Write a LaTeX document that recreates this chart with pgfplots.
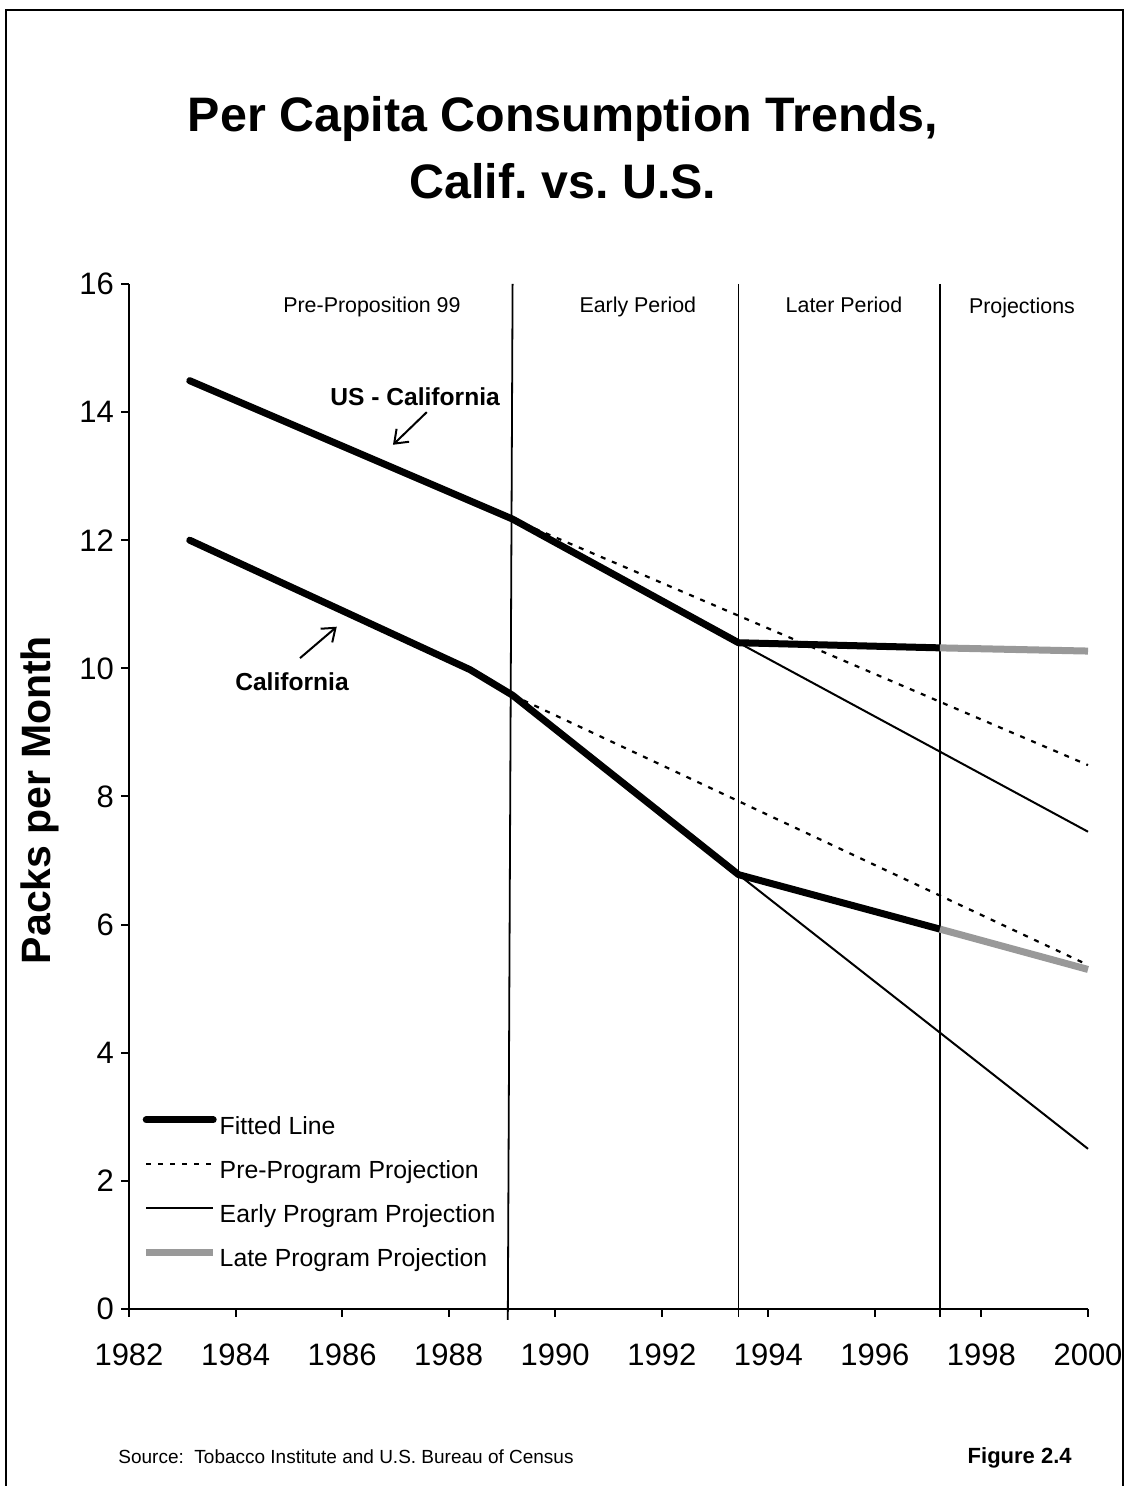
\documentclass[border=0pt]{standalone}
\usepackage{fontspec}
\setmainfont{Liberation Sans}
\usepackage{pgfplots}
\pgfplotsset{compat=1.18}
\usetikzlibrary{arrows.meta}
\definecolor{lategray}{RGB}{153,153,153}
\frenchspacing
\begin{document}
\begin{tikzpicture}[x=0.5pt,y=0.5pt]
\useasboundingbox (0,0) rectangle (1126,1486);
\draw[line width=1.3pt] (6,-20) -- (6,1476) -- (1123,1476) -- (1123,-20);
% title
\node[anchor=base, font=\fontsize{24.2}{29}\bfseries\selectfont] at (563,1486-132) {Per Capita Consumption Trends,};
\node[anchor=base, font=\fontsize{24.2}{29}\bfseries\selectfont] at (563,1486-199) {Calif. vs. U.S.};
% y label
\node[rotate=90, font=\fontsize{20.5}{24}\bfseries\selectfont] at (40,1486-800) {Packs per Month};
% footer
\node[anchor=base west, font=\fontsize{9.5}{11}\selectfont, inner sep=0pt] at (118,1486-1464) {Source:\ \ Tobacco Institute and U.S. Bureau of Census};
\node[anchor=base east, font=\fontsize{11}{13}\bfseries\selectfont, inner sep=0pt] at (1072,1486-1464) {Figure 2.4};
\begin{axis}[
  at={(64.5pt,88.5pt)}, anchor=south west,
  scale only axis, width=479.5pt, height=512.5pt,
  xmin=1982, xmax=2000, ymin=0, ymax=16,
  axis x line*=bottom, axis y line*=left,
  axis line style={line width=1pt},
  xtick={1982,1984,1986,1988,1990,1992,1994,1996,1998,2000},
  xticklabels={1982,1984,1986,1988,1990,1992,1994,1996,1998,2000},
  ytick={0,2,4,6,8,10,12,14,16},
  tick align=outside, major tick length=4pt,
  tick style={black, line width=1pt},
  /pgf/number format/assume math mode=true,
  tick label style={font=\fontsize{15.5}{18}\selectfont},
  xticklabel style={yshift=-10pt},
  clip=false,
  legend style={at={(axis cs:1982.25,3.06)}, anchor=north west, draw=none, fill=none,
    font=\fontsize{12.4}{14}\selectfont, row sep=7.6pt, inner sep=0pt,
    nodes={inner sep=1.5pt, text height=9pt, text depth=2.5pt}},
  legend cell align=left,
  legend image code/.code={\draw[#1] (0pt,4pt) -- (33.5pt,4pt);},
]
% period separators
\addplot[line width=0.9pt, forget plot] coordinates {(1989.2,16) (1989.11,-0.17)};
\addplot[line width=0.9pt, forget plot] coordinates {(1993.44,16) (1993.44,-0.12)};
\addplot[line width=0.9pt, forget plot] coordinates {(1997.22,16) (1997.22,-0.12)};
% fitted
\addplot[line width=3.5pt, line cap=round, line join=round] coordinates {(1983.14,14.49) (1989.2,12.33) (1993.44,10.40) (1997.22,10.32)};
\addlegendentry{Fitted Line}
% pre-program projections
\addplot[line width=1.1pt, dash pattern=on 2.5pt off 3.5pt] coordinates {(1989.2,12.33) (2000,8.49)};
\addlegendentry{Pre-Program Projection}
% early program projections
\addplot[line width=1pt] coordinates {(1993.44,10.40) (2000,7.45)};
\addlegendentry{Early Program Projection}
% late
\addplot[line width=3.5pt, lategray] coordinates {(1997.22,10.32) (2000,10.27)};
\addlegendentry{Late Program Projection}
% California
\addplot[line width=1.1pt, dash pattern=on 2.5pt off 3.5pt, forget plot] coordinates {(1989.2,9.58) (2000,5.37)};
\addplot[line width=1pt, forget plot] coordinates {(1993.44,6.78) (2000,2.50)};
\addplot[line width=3.5pt, line cap=round, line join=round, forget plot] coordinates {(1983.14,12.0) (1988.4,9.98) (1989.2,9.58) (1993.44,6.78) (1997.22,5.93)};
\addplot[line width=3.5pt, lategray, forget plot] coordinates {(1997.22,5.93) (2000,5.30)};
% period labels
\node[anchor=base, font=\fontsize{10.7}{13}\selectfont] at (axis cs:1986.56,15.56) {Pre-Proposition 99};
\node[anchor=base, font=\fontsize{10.7}{13}\selectfont] at (axis cs:1991.55,15.56) {Early Period};
\node[anchor=base, font=\fontsize{10.7}{13}\selectfont] at (axis cs:1995.42,15.56) {Later Period};
\node[anchor=base, font=\fontsize{10.7}{13}\selectfont] at (axis cs:1998.76,15.54) {Projections};
% annotations
\node[font=\fontsize{12.3}{14}\bfseries\selectfont] at (axis cs:1987.37,14.24) {US - California};
\draw[line width=1pt, -{Straight Barb[length=6pt,width=9pt]}] (axis cs:1987.59,14.0) -- (axis cs:1986.955,13.49);
\node[font=\fontsize{12.3}{14}\bfseries\selectfont] at (axis cs:1985.06,9.79) {California};
\draw[line width=1pt, -{Straight Barb[length=6pt,width=9pt]}] (axis cs:1985.21,10.16) -- (axis cs:1985.90,10.65);
\end{axis}
\end{tikzpicture}
\end{document}
